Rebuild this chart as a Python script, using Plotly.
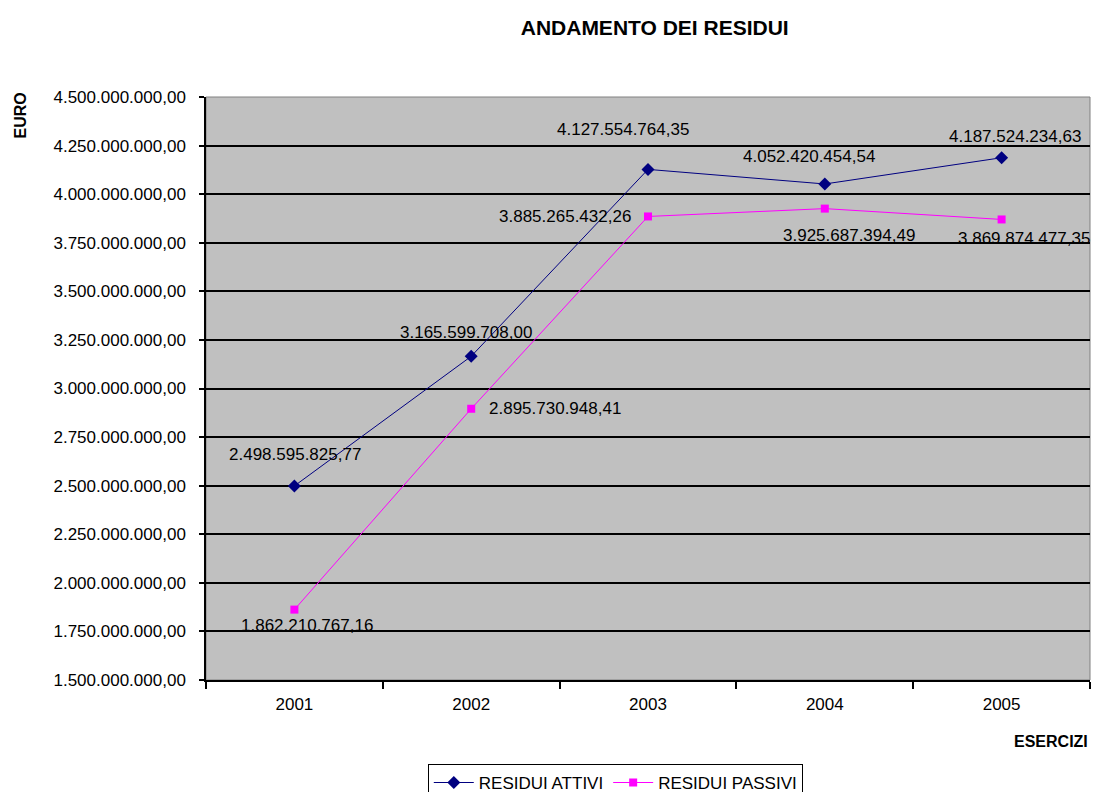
import plotly.graph_objects as go

years = ["2001", "2002", "2003", "2004", "2005"]
residui_attivi = [2498595825.77, 3165599708.00, 4127554764.35, 4052420454.54, 4187524234.63]
residui_passivi = [1862210767.16, 2895730948.41, 3885265432.26, 3925687394.49, 3869874477.35]
y_ticks = [1500000000, 1750000000, 2000000000, 2250000000, 2500000000, 2750000000,
           3000000000, 3250000000, 3500000000, 3750000000, 4000000000, 4250000000, 4500000000]

# label offsets in pixels (x, y-up)
attivi_shift = [(1, 31), (-5, 24), (-25, 40), (-16, 27), (13, 21)]
passivi_shift = [(13, -16), (84, 0), (-83, 0), (24, -27), (22, -19)]

FONT = "Liberation Sans, Arial, sans-serif"


def fmt_it(v):
    s = f"{v:,.2f}"
    return s.replace(",", "X").replace(".", ",").replace("X", ".")


fig = go.Figure()
fig.add_trace(go.Scatter(
    x=years, y=residui_attivi, name="RESIDUI ATTIVI", mode="lines+markers",
    line=dict(color="#000080", width=1),
    marker=dict(symbol="diamond", size=10, color="#000080"),
))
fig.add_trace(go.Scatter(
    x=years, y=residui_passivi, name="RESIDUI PASSIVI", mode="lines+markers",
    line=dict(color="#FF00FF", width=1),
    marker=dict(symbol="square", size=8, color="#FF00FF"),
))

annotations = []
for i, (v, (dx, dy)) in enumerate(zip(residui_attivi, attivi_shift)):
    annotations.append(dict(x=i, y=v, xref="x", yref="y", text=fmt_it(v), showarrow=False,
                            xshift=dx, yshift=dy, font=dict(size=17, color="#000", family=FONT)))
for i, (v, (dx, dy)) in enumerate(zip(residui_passivi, passivi_shift)):
    annotations.append(dict(x=i, y=v, xref="x", yref="y", text=fmt_it(v), showarrow=False,
                            xshift=dx, yshift=dy, font=dict(size=17, color="#000", family=FONT)))

annotations.append(dict(text="<b>EURO</b>", xref="paper", yref="paper", x=-0.21, y=0.969,
                        textangle=-90, showarrow=False, xanchor="center", yanchor="middle",
                        font=dict(size=16, color="#000", family=FONT)))
annotations.append(dict(text="<b>ESERCIZI</b>", xref="paper", yref="paper", x=1.0, y=-0.106,
                        showarrow=False, xanchor="right", yanchor="middle",
                        font=dict(size=16, color="#000", family=FONT)))

fig.update_layout(
    width=1093, height=792,
    margin=dict(l=206, r=3, t=97, b=112, autoexpand=False),
    paper_bgcolor="white", plot_bgcolor="#C0C0C0",
    separators=",.",
    font=dict(family=FONT, size=17, color="#000"),
    title=dict(text="<b>ANDAMENTO DEI RESIDUI</b>", x=0.599, xanchor="center",
               y=0.965, yanchor="middle", font=dict(size=21, color="#000", family=FONT)),
    showlegend=True,
    legend=dict(orientation="h", x=0.463, xanchor="center", y=-0.144, yanchor="top",
                bordercolor="#000", borderwidth=1, bgcolor="white",
                font=dict(size=17, color="#000", family=FONT), itemwidth=40,
                tracegroupgap=0),
    annotations=annotations,
    shapes=[dict(type="rect", xref="paper", yref="paper", x0=0, x1=1, y0=0, y1=1,
                 line=dict(color="#808080", width=1), layer="below")],
)
fig.update_xaxes(type="category", tickson="boundaries", showgrid=False,
                 ticks="outside", ticklen=7, tickcolor="#000", tickwidth=1.5,
                 showline=True, linecolor="#000", linewidth=1.5, range=[-0.5, 4.5],
                 tickfont=dict(size=17), ticklabelstandoff=8)
fig.update_yaxes(range=[1500000000, 4500000000], tickvals=y_ticks, tickformat=",.2f",
                 showgrid=True, gridcolor="#000", gridwidth=1.5,
                 ticks="outside", ticklen=5, tickcolor="#000", tickwidth=1.5,
                 showline=True, linecolor="#000", linewidth=1.5, zeroline=False,
                 tickfont=dict(size=17), ticklabelstandoff=10)

fig.write_html("out.html", config={"displayModeBar": False},
               post_script="document.body.style.margin='0';document.body.style.overflow='hidden';")
